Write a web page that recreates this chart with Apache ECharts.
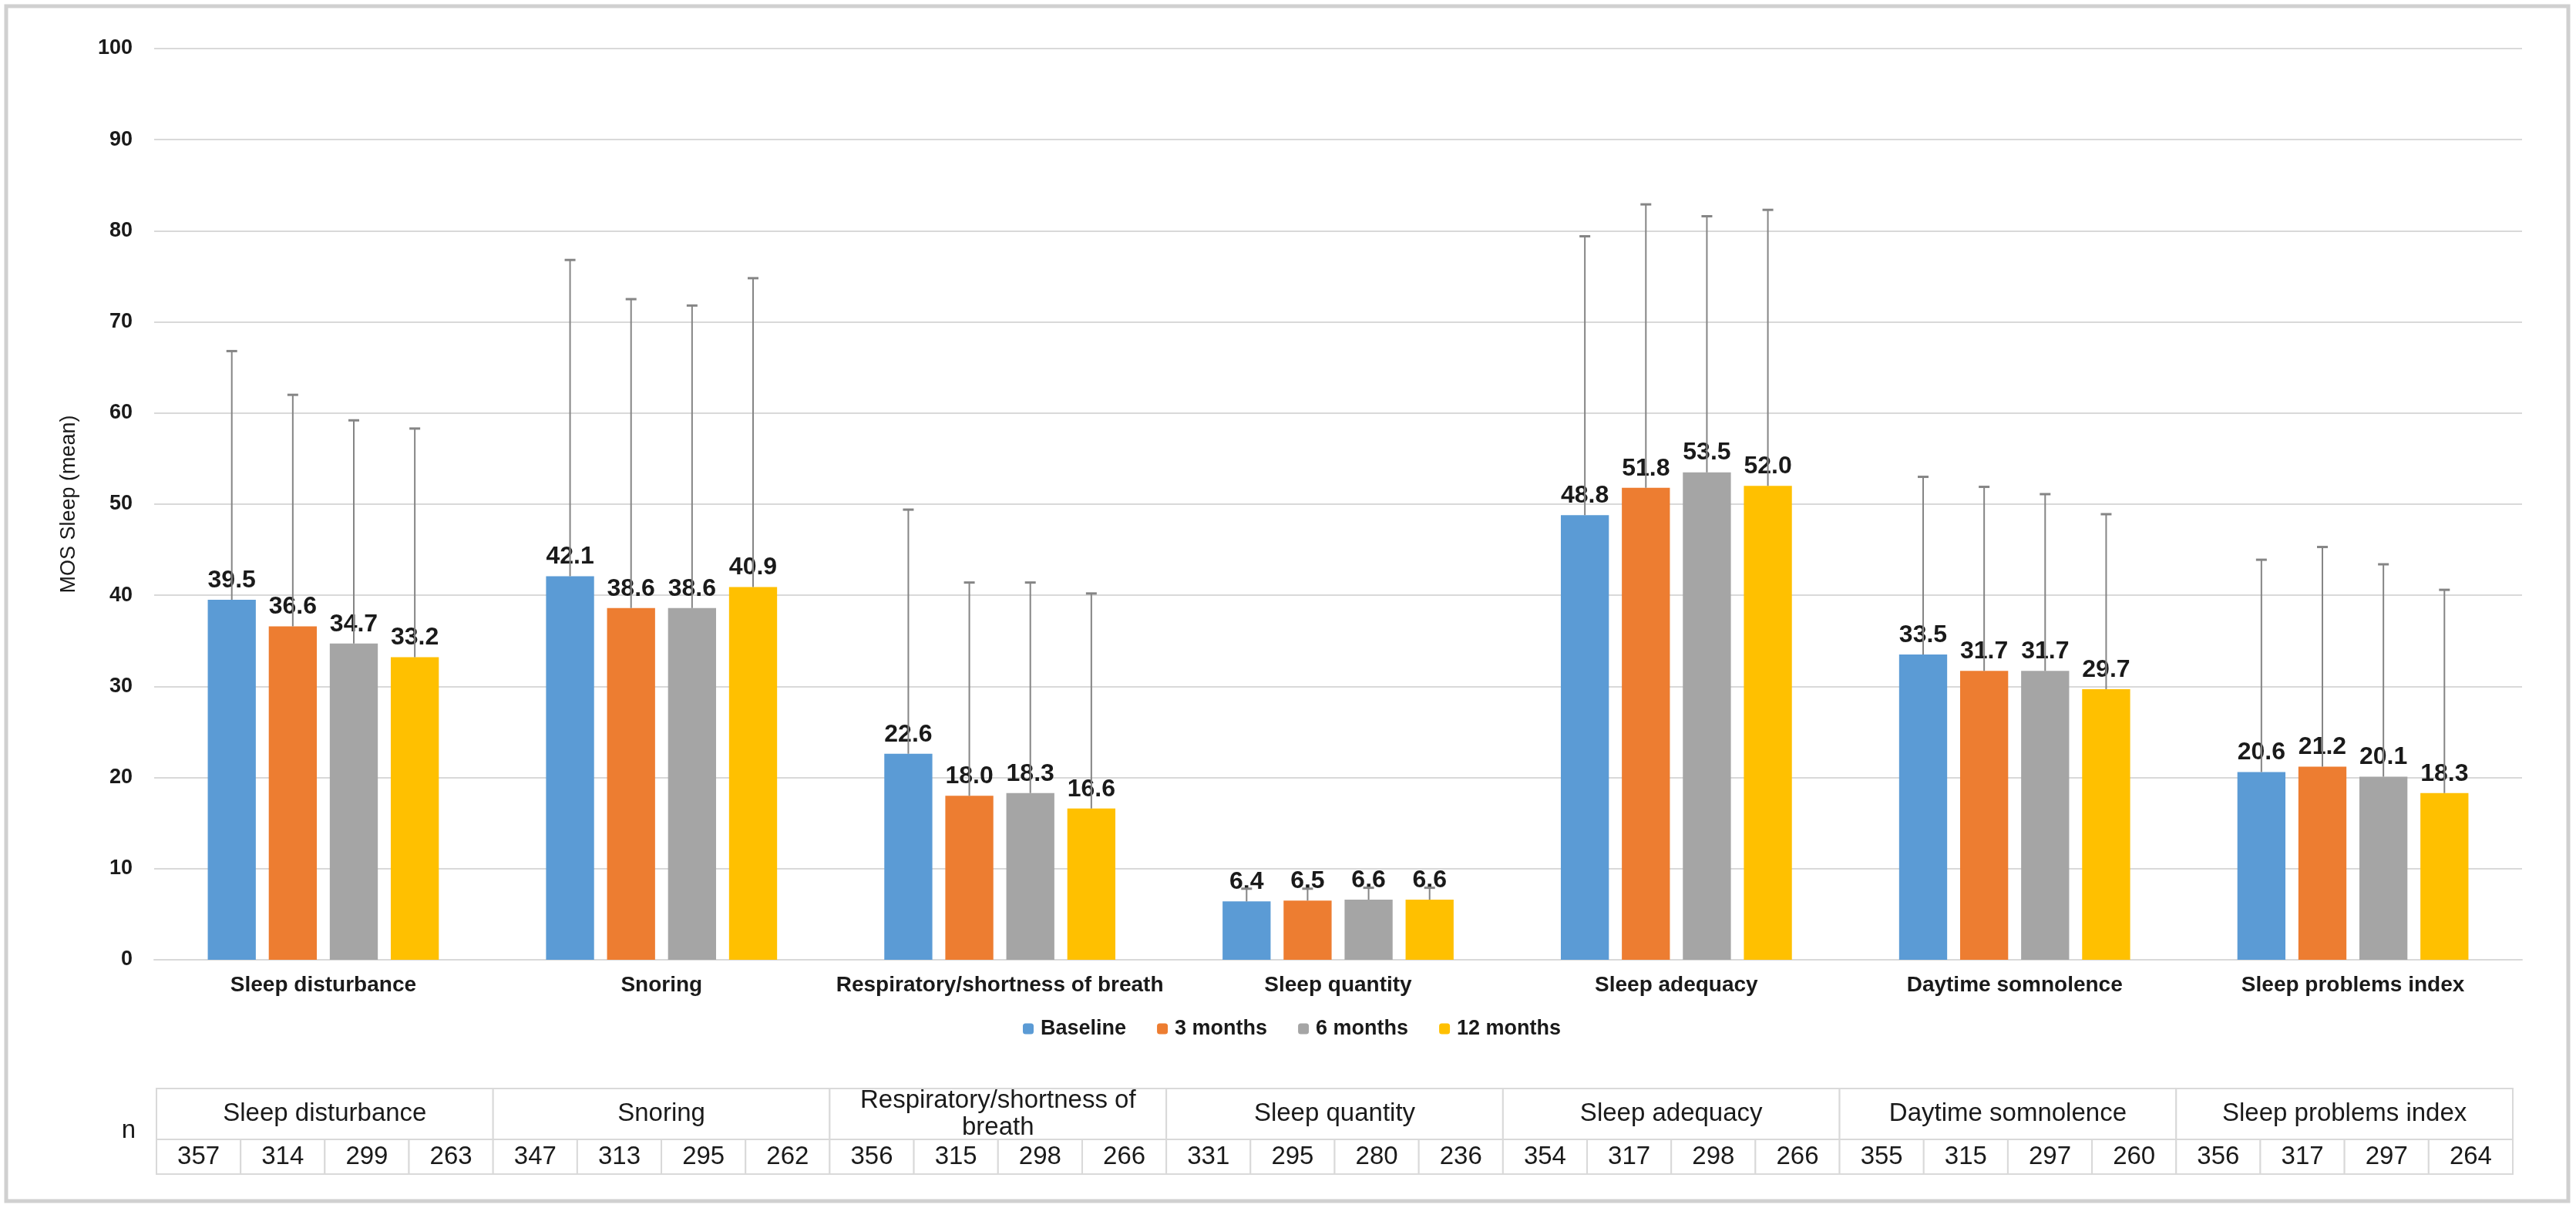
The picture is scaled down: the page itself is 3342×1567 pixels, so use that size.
<!DOCTYPE html>
<html><head><meta charset="utf-8">
<script src="https://cdn.jsdelivr.net/npm/echarts@6/dist/echarts.min.js"></script>
<style>html,body{margin:0;padding:0;background:#fff}#c{width:3342px;height:1567px}</style>
</head><body><div id="c"></div>
<script>
const categories = ['Sleep disturbance','Snoring','Respiratory/shortness of breath','Sleep quantity','Sleep adequacy','Daytime somnolence','Sleep problems index'];
const tableHeaders = ['Sleep disturbance','Snoring','Respiratory/shortness of\nbreath','Sleep quantity','Sleep adequacy','Daytime somnolence','Sleep problems index'];
const seriesNames = ['Baseline','3 months','6 months','12 months'];
const baseline = [39.5,42.1,22.6,6.4,48.8,33.5,20.6];
const month3 = [36.6,38.6,18.0,6.5,51.8,31.7,21.2];
const month6 = [34.7,38.6,18.3,6.6,53.5,31.7,20.1];
const month12 = [33.2,40.9,16.6,6.6,52.0,29.7,18.3];
const upperBaseline = [66.8,76.8,49.4,7.8,79.4,53.0,43.9];
const upper3 = [62.0,72.5,41.4,7.8,82.9,51.9,45.3];
const upper6 = [59.2,71.8,41.4,7.9,81.6,51.1,43.4];
const upper12 = [58.3,74.8,40.2,7.9,82.3,48.9,40.6];
const nBaseline = [357,347,356,331,354,355,356];
const n3 = [314,313,315,295,317,315,317];
const n6 = [299,295,298,280,298,297,297];
const n12 = [263,262,266,236,266,260,264];
const yMin = 0, yMax = 100, yInterval = 10;

const colors = ['#5B9BD5','#ED7D31','#A5A5A5','#FFC000'];
const means = [baseline, month3, month6, month12];
const uppers = [upperBaseline, upper3, upper6, upper12];
const ns = [nBaseline, n3, n6, n12];
const BAR_W = 0.142, BAR_GAP = 0.27;
const ROW_SPLIT = 0.405;
const FONT = '"Liberation Sans", Arial, sans-serif';

function errRender(si){
  return function(params, api){
    const ci = api.value(0);
    const base = api.coord([ci, api.value(1)]);
    const top = api.coord([ci, api.value(2)]);
    const band = api.size([1,0])[0];
    const w = band*BAR_W, g = w*BAR_GAP;
    const total = 4*w + 3*g;
    const x = base[0] - total/2 + w/2 + si*(w+g);
    const cap = 7;
    return {type:'group', children:[
      {type:'line', shape:{x1:x,y1:base[1],x2:x,y2:top[1]}, style:{stroke:'#858585',lineWidth:2}},
      {type:'line', shape:{x1:x-cap,y1:top[1],x2:x+cap,y2:top[1]}, style:{stroke:'#858585',lineWidth:3}}
    ]};
  };
}

const headerData = tableHeaders.map((h,i)=>[i, h]);
const nData = [];
for (let gI=0; gI<categories.length; gI++) for (let s=0; s<4; s++) nData.push([gI*4+s, ns[s][gI]]);

function cellRect(x0,x1,y0,y1,api,text,fs){
  const p0 = api.coord([x0,y1]), p1 = api.coord([x1,y0]);
  return {type:'rect', shape:{x:p0[0],y:p0[1],width:p1[0]-p0[0],height:p1[1]-p0[1]},
    style:{fill:'#fff',stroke:'#d9d9d9',lineWidth:2},
    textContent:{type:'text',style:{text:text,fontSize:fs,fontFamily:FONT,fill:'#1a1a1a',align:'center',verticalAlign:'middle',lineHeight:35}},
    textConfig:{position:'inside'}};
}

const series = [];
seriesNames.forEach((name,si)=>{
  series.push({name:name, type:'bar', xAxisIndex:0, yAxisIndex:0, data:means[si],
    barWidth:(BAR_W*100)+'%', barGap:(BAR_GAP*100)+'%',
    itemStyle:{color:colors[si]},
    label:{show:true, position:'top', distance:9, fontSize:32, fontWeight:'bold', fontFamily:FONT, color:'#1a1a1a',
      formatter:p=>p.value.toFixed(1)}, z:2});
});
seriesNames.forEach((name,si)=>{
  series.push({type:'custom', xAxisIndex:0, yAxisIndex:0, renderItem:errRender(si),
    data:categories.map((c,i)=>[i, means[si][i], uppers[si][i]]), z:3, silent:true, tooltip:{show:false}});
});
series.push({type:'custom', xAxisIndex:1, yAxisIndex:1, data:headerData,
  renderItem:(p,api)=>cellRect(api.value(0)*4, api.value(0)*4+4, ROW_SPLIT, 1, api, tableHeaders[p.dataIndex], 33), z:1});
series.push({type:'custom', xAxisIndex:1, yAxisIndex:1, data:nData,
  renderItem:(p,api)=>cellRect(api.value(0), api.value(0)+1, 0, ROW_SPLIT, api, String(api.value(1)), 33), z:1});

const option = {
  backgroundColor:'#fff',
  animation:false,
  legend:{data:seriesNames, top:1316, left:1322, itemWidth:14, itemHeight:14, itemGap:40,
    textStyle:{fontSize:27, fontWeight:'bold', fontFamily:FONT, color:'#1a1a1a', padding:[0,0,0,4]}},
  grid:[{left:200, right:70, top:63, bottom:322},
        {left:203, width:3057, top:1412, height:111}],
  xAxis:[{type:'category', gridIndex:0, data:categories,
          axisLine:{lineStyle:{color:'#d9d9d9',width:2}}, axisTick:{show:false},
          axisLabel:{fontSize:28, fontWeight:'bold', fontFamily:FONT, color:'#1a1a1a', margin:19, interval:0}},
         {type:'value', gridIndex:1, min:0, max:28, show:false}],
  yAxis:[{type:'value', gridIndex:0, min:yMin, max:yMax, interval:yInterval,
          name:'MOS Sleep (mean)', nameLocation:'middle', nameGap:97,
          nameTextStyle:{fontSize:27, fontFamily:FONT, color:'#1a1a1a'},
          axisLine:{show:false}, axisTick:{show:false},
          splitLine:{lineStyle:{color:'#d9d9d9',width:2}},
          axisLabel:{fontSize:27, fontWeight:'bold', fontFamily:FONT, color:'#1a1a1a', margin:28}},
         {type:'value', gridIndex:1, min:0, max:1, show:false}],
  graphic:[
    {type:'rect', shape:{x:8,y:8,width:3324,height:1550}, style:{fill:'none',stroke:'#d0d0d0',lineWidth:5}, silent:true},
    {type:'text', x:167, y:1467, style:{text:'n', fontSize:33, fontFamily:FONT, fill:'#1a1a1a', align:'center', verticalAlign:'middle'}}
  ],
  series:series
};
const chart = echarts.init(document.getElementById('c'));
chart.setOption(option);
</script></body></html>
